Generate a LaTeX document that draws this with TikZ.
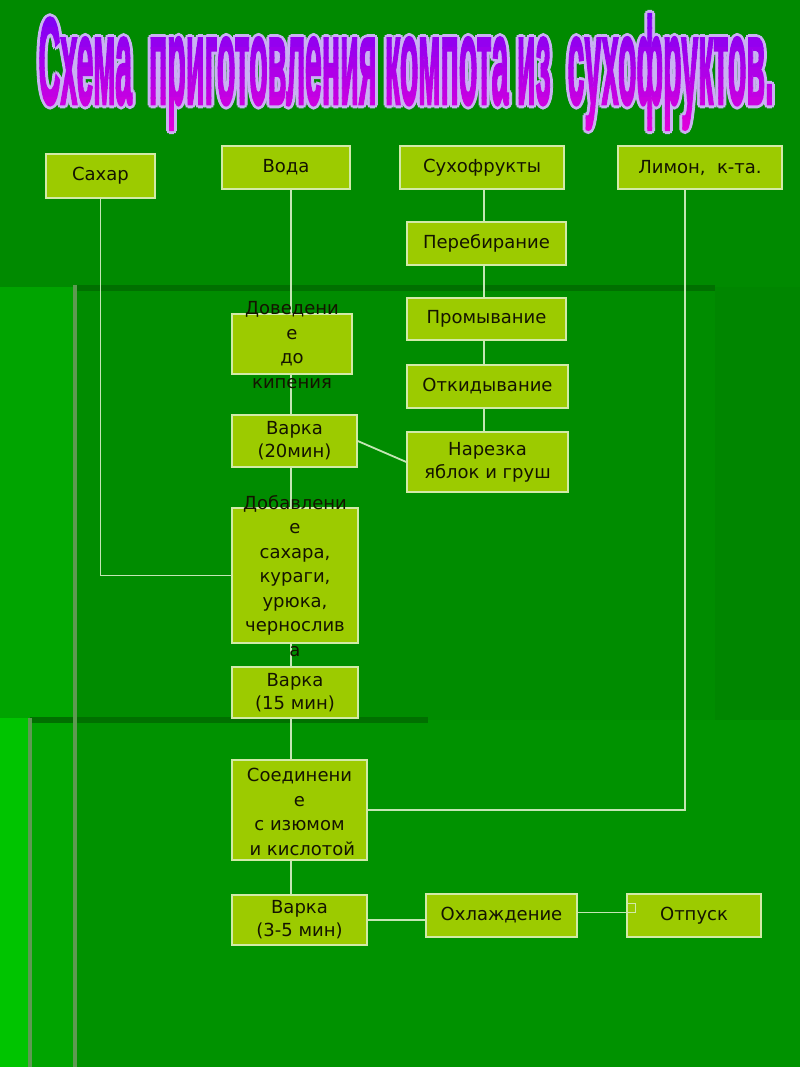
\documentclass[tikz,border=0pt]{standalone}
\usepackage{fontspec}
\setmainfont{DejaVu Sans}
\newfontfamily\titlefont[FakeBold=2.5]{Liberation Sans Bold}
\pgfdeclarelayer{bg}
\pgfdeclarelayer{links}
\pgfsetlayers{bg,links,main}
\definecolor{topgreen}{HTML}{008A00}
\definecolor{panelgreen}{HTML}{008C00}
\definecolor{rightgreen}{HTML}{008600}
\definecolor{lowgreen}{HTML}{009200}
\definecolor{leftgreen}{HTML}{00A400}
\definecolor{edgegreen}{HTML}{00C400}
\definecolor{darkbar}{HTML}{007000}
\definecolor{greybar}{HTML}{5E9A52}
\definecolor{boxfill}{HTML}{9CCB00}
\definecolor{boxedge}{HTML}{D2EAA8}
\definecolor{linkcol}{HTML}{C4E6B4}
\definecolor{txtcol}{HTML}{141400}
\definecolor{titletop}{HTML}{7A00F6}
\definecolor{titlebot}{HTML}{E400DA}
\definecolor{glowcol}{HTML}{C9B2F2}
\newcommand\mytitletext{\resizebox*{735pt}{115pt}{\titlefont Схема\ \ приготовления компота из\ \ сухофруктов.}}
\begin{document}
\begin{tikzpicture}[x=1pt,y=-1pt,
  box/.style={draw=boxedge, fill=boxfill, line width=1.4pt, inner sep=0pt,
    text=txtcol, font=\fontsize{18}{23}\selectfont, align=center},
  lbl/.style={text=txtcol, font=\fontsize{18}{24.5}\selectfont, align=center, inner sep=0pt},
  link/.style={draw=linkcol, line width=1.8pt},
  ttl/.style={inner sep=0pt, anchor=center}
]
\useasboundingbox (0,0) rectangle (800,1067);
% background
\begin{pgfonlayer}{bg}
\fill[topgreen] (0,0) rectangle (800,1067);
\fill[panelgreen] (75,287) rectangle (715,1067);
\fill[rightgreen] (715,287) rectangle (800,1067);
\fill[leftgreen] (0,287) rectangle (75,1067);
\fill[lowgreen] (75,720) rectangle (800,1067);
\fill[edgegreen] (0,718) rectangle (30,1067);
\fill[darkbar] (75,285) rectangle (715,291);
\fill[darkbar] (30,717) rectangle (428,723);
\fill[greybar] (73,285) rectangle (77,1067);
\fill[greybar] (28,718) rectangle (32,1067);
\end{pgfonlayer}
% title glow
\foreach \dx/\dy [count=\i] in {-2/-2,2/-2,-2/2,2/2,0/-3,0/3,-3/0,3/0}
  \node[ttl, text=glowcol] (glow\i) at (406+\dx,72+\dy) {\mytitletext};
% title gradient
\foreach \i in {1,...,13}{
  \pgfmathsetmacro\p{100-(\i-1)*100/12}
  \begin{scope}
    \clip (0,{10*\i-2}) rectangle (800,{10*\i+9});
    \node[ttl, text=titletop!\p!titlebot] (title\i) at (406,72) {\mytitletext};
  \end{scope}
}
% boxes
\node[box, minimum width=109, minimum height=44] (sah) at (100.5,176) {Сахар};
\node[box, minimum width=128, minimum height=43] (voda) at (286,167.5) {Вода};
\node[box, minimum width=164, minimum height=43] (suh) at (482,167.5) {Сухофрукты};
\node[box, minimum width=164, minimum height=43] (lim) at (700,167.5) {Лимон,\ \ к-та.};
\node[box, minimum width=159, minimum height=43] (per) at (486.5,243.5) {Перебирание};
\node[box, minimum width=159, minimum height=42] (prom) at (486.5,319) {Промывание};
\node[box, minimum width=161, minimum height=43] (otk) at (487.5,386.5) {Откидывание};
\node[box, minimum width=161, minimum height=60] (nar) at (487.5,462) {Нарезка\\яблок и груш};
\node[box, minimum width=120, minimum height=60] (dov) at (292,344) {};
\node[lbl] (dovt) at (292,345) {Доведени\\е\\до\\кипения};
\node[box, minimum width=125, minimum height=52] (v20) at (294.5,441) {Варка\\(20мин)};
\node[box, minimum width=126, minimum height=135] (dob) at (295,575.5) {};
\node[lbl] (dobt) at (295,576) {Добавлени\\е\\сахара,\\кураги,\\урюка,\\чернослив\\а};
\node[box, minimum width=126, minimum height=51] (v15) at (295,692.5) {Варка\\(15 мин)};
\node[box, minimum width=135, minimum height=100] (soed) at (299.5,810) {};
\node[lbl] (soedt) at (299.5,812) {Соединени\\е\\с изюмом\\\ и кислотой};
\node[box, minimum width=135, minimum height=50] (v35) at (299.5,920) {Варка\\(3-5 мин)};
\node[box, minimum width=151, minimum height=43] (ohl) at (501.5,915.5) {Охлаждение};
\node[box, minimum width=134, minimum height=43] (otp) at (694,915.5) {Отпуск};
\node[draw=boxedge, line width=1pt, minimum width=8, minimum height=9, inner sep=0pt] (sq) at (631,907.5) {};
% connectors
\coordinate (vx) at (291,0);
\coordinate (hx) at (484,0);
\coordinate (lx) at (685,0);
\begin{pgfonlayer}{links}
\draw[link] (sah.south) |- (dob.west);
\draw[link] (voda.south -| vx) -- (v35.north -| vx);
\draw[link] (suh.south -| hx) -- (nar.north -| hx);
\draw[link] (lim.south -| lx) |- (soed.east);
\draw[link] (v20.east) -- (nar.west);
\draw[link] (v35.east) -- (v35.east -| ohl.west);
\draw[link] (ohl.east |- sq.south) -- (sq.south west);
\end{pgfonlayer}
\end{tikzpicture}
\end{document}
